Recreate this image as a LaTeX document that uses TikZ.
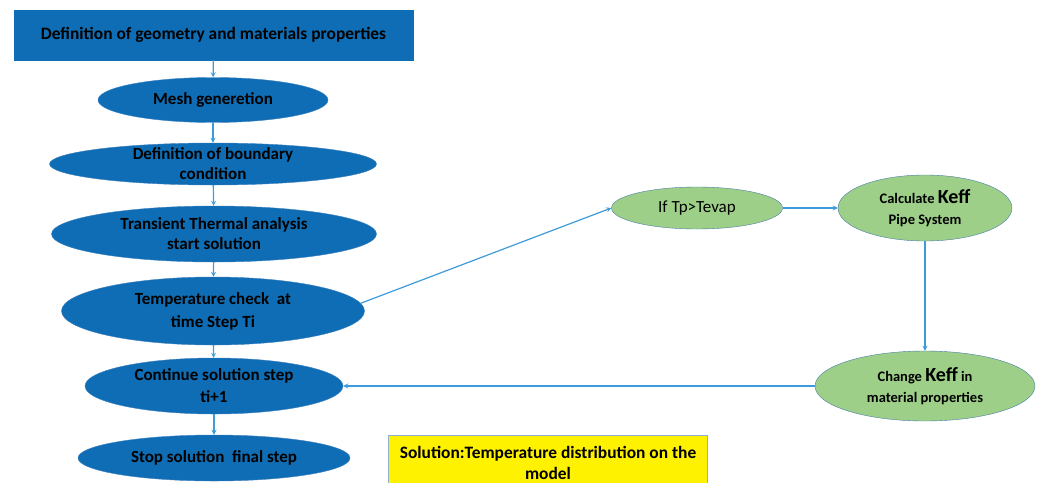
\documentclass[tikz,border=0pt]{standalone}
\usepackage{fontspec}
\setmainfont{Carlito}
\usetikzlibrary{shapes.geometric}

\definecolor{stepblue}{HTML}{0E6DB4}
\definecolor{stepedge}{HTML}{3F80C0}
\definecolor{checkgreen}{HTML}{9DCF88}
\definecolor{greenedge}{HTML}{4A7DA6}
\definecolor{flowline}{HTML}{3D9BDB}
\definecolor{soledge}{HTML}{8FAFD0}

\begin{document}
\begin{tikzpicture}[x=1pt,y=-1pt,
        bluestep/.style={ellipse,fill=stepblue,draw=stepedge,inner xsep=0pt,inner ysep=-6pt,align=center,
            font=\bfseries\fontsize{17}{20}\selectfont},
        greenstep/.style={ellipse,fill=checkgreen,draw=greenedge,inner xsep=0pt,inner ysep=-6pt,align=center,
            font=\bfseries\fontsize{14.5}{21}\selectfont},
        flow/.style={->,>=stealth,draw=flowline,line width=1.2pt}]
        \useasboundingbox (0,0) rectangle (1040,482);

        % main column
        \node[rectangle,fill=stepblue,draw=stepblue,minimum width=399pt,minimum height=50pt,
            font=\bfseries\fontsize{17.4}{20}\selectfont] (geom) at (213.5,35) {Definition of geometry and materials properties};
        \node[bluestep,minimum width=230pt,minimum height=45pt] (mesh) at (213,100) {Mesh generetion};
        \node[bluestep,minimum width=327pt,minimum height=42pt] (bound) at (213,164) {Definition of boundary\\condition};
        \node[bluestep,minimum width=325pt,minimum height=56pt] (trans) at (214,234) {Transient Thermal analysis\\start solution};
        \node[bluestep,minimum width=303pt,minimum height=68pt,font=\bfseries\fontsize{17}{23}\selectfont] (temp) at (213,311) {Temperature check\ \ at\\time Step Ti};
        \node[bluestep,minimum width=258pt,minimum height=56pt,font=\bfseries\fontsize{17}{22}\selectfont] (cont) at (214,386) {Continue solution step\\ti+1};
        \node[bluestep,minimum width=272pt,minimum height=46pt] (stop) at (214,458) {Stop solution\ \ final step};

        \node[rectangle,fill=yellow,draw=soledge,minimum width=319pt,minimum height=56pt,align=center,
            font=\bfseries\fontsize{17.4}{21}\selectfont] (sol) at (548,463) {Solution:Temperature distribution on the\\model};

        % loop on the right
        \node[greenstep,minimum width=171pt,minimum height=42pt,font=\fontsize{17}{19}\selectfont] (iftp) at (697,208) {If Tp>Tevap};
        \node[greenstep,minimum width=174pt,minimum height=66pt] (calc) at (925,208) {Calculate {\fontsize{20}{21}\selectfont Keff}\\Pipe System};
        \node[greenstep,minimum width=220pt,minimum height=70pt] (change) at (925,386) {Change {\fontsize{20}{21}\selectfont Keff} in\\material properties};

        \draw[flow] (geom) -- (mesh);
        \draw[flow] (mesh) -- (bound);
        \draw[flow] (bound) -- (trans);
        \draw[flow] (trans) -- (temp);
        \draw[flow] (temp) -- (cont);
        \draw[flow] (cont) -- (stop);

        \draw[flow] (temp.3) -- (iftp.west);
        \draw[flow] (iftp) -- (calc);
        \draw[flow] (calc) -- (change);
        \draw[flow] (change) -- (cont);
    \end{tikzpicture}
\end{document}
